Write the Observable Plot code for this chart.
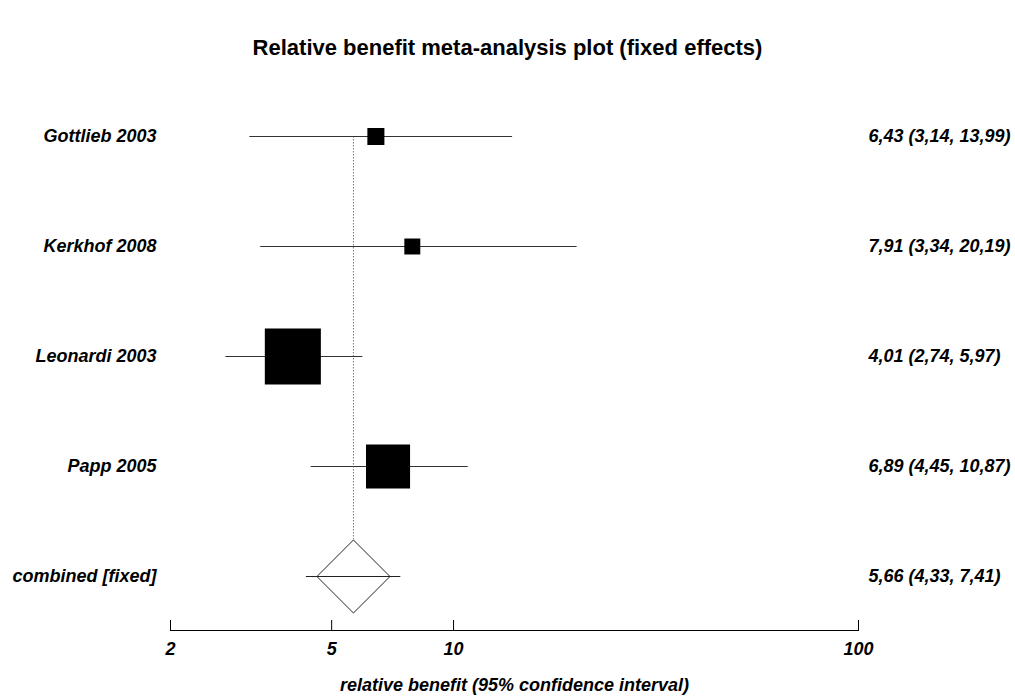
<!DOCTYPE html>
<html><head><meta charset="utf-8">
<script src="https://cdn.jsdelivr.net/npm/d3@7"></script>
<script src="https://cdn.jsdelivr.net/npm/@observablehq/plot@0.6"></script>
<style>
body{margin:0;background:#fff;}
#title{height:80px;box-sizing:border-box;padding-top:35px;text-align:center;font:bold 22px "Liberation Sans",Arial,sans-serif;line-height:26px;color:#000;}
</style></head><body>
<div id="title">Relative benefit meta-analysis plot (fixed effects)</div>
<div id="chart"></div>
<script>
const studies = ["Gottlieb 2003", "Kerkhof 2008", "Leonardi 2003", "Papp 2005"];
const estimate = [6.43, 7.91, 4.01, 6.89];
const lower = [3.14, 3.34, 2.74, 4.45];
const upper = [13.99, 20.19, 5.97, 10.87];
const weight = [12.8, 12.0, 42.1, 33.1];
const combinedLabel = "combined [fixed]";
const combinedEstimate = 5.66;
const combinedLower = 4.33;
const combinedUpper = 7.41;
const xTicks = [2, 5, 10, 100];
const xLabel = "relative benefit (95% confidence interval)";

const fmt = v => v.toFixed(2).replace(".", ",");
const rows = studies.map((s, i) => ({label: s, est: estimate[i], lo: lower[i], hi: upper[i], w: weight[i]}));
const pooled = {label: combinedLabel, est: combinedEstimate, lo: combinedLower, hi: combinedUpper};
const all = [...rows, pooled];
const font = {fontSize: 18, fontStyle: "italic", fontWeight: "bold", fill: "#000"};

const chart = Plot.plot({
  width: 1015, height: 617,
  marginTop: 2, marginBottom: 67, marginLeft: 170, marginRight: 157,
  style: {fontFamily: '"Liberation Sans", Arial, sans-serif', background: "#fff", overflow: "visible"},
  x: {type: "log", domain: [xTicks[0], xTicks[xTicks.length - 1]]},
  y: {type: "point", domain: all.map(d => d.label), padding: 0.49, axis: null},
  r: {type: "linear", domain: [0, 100], range: [0, 75.1]},
  marks: [
    Plot.frame({anchor: "bottom", stroke: "#000"}),
    Plot.axisX(xTicks, {tickSize: -10, tickFormat: () => "", ...font,
      label: xLabel, labelAnchor: "center", labelArrow: "none", labelOffset: 60}),
    Plot.text(xTicks, {x: d => d, text: d => String(d), frameAnchor: "bottom", lineAnchor: "top", dy: 12, ...font}),
    Plot.ruleX([pooled], {x: "est", y1: () => all[0].label, y2: "label", stroke: "#777", strokeDasharray: "1.5,1.5"}),
    Plot.ruleY(rows, {y: "label", x1: "lo", x2: "hi", stroke: "#333", strokeWidth: 1}),
    Plot.dot(rows, {x: "est", y: "label", r: "w", symbol: "square", fill: "#000", stroke: "none"}),
    Plot.dot([pooled], {x: "est", y: "label", r: 32.9, symbol: "diamond2", fill: "#fff", stroke: "#222", strokeWidth: 1}),
    Plot.ruleY([pooled], {y: "label", x1: "lo", x2: "hi", stroke: "#222", strokeWidth: 1}),
    Plot.text(all, {y: "label", text: "label", frameAnchor: "left", dx: -14, textAnchor: "end", ...font}),
    Plot.text(all, {y: "label", text: d => `${fmt(d.est)} (${fmt(d.lo)}, ${fmt(d.hi)})`, frameAnchor: "right", dx: 10, textAnchor: "start", ...font})
  ]
});
document.getElementById("chart").append(chart);
</script>
</body></html>
